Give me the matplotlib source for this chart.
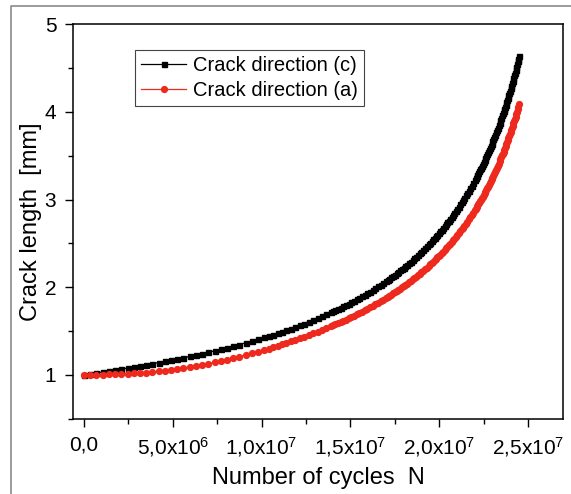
import matplotlib
matplotlib.use("Agg")
import matplotlib.pyplot as plt
from matplotlib.lines import Line2D
from matplotlib.ticker import FixedLocator, FixedFormatter, MultipleLocator

plt.rcParams['font.family'] = ['Liberation Sans', 'DejaVu Sans']
plt.rcParams['mathtext.fontset'] = 'custom'
plt.rcParams['mathtext.rm'] = 'Liberation Sans'
plt.rcParams['mathtext.it'] = 'Liberation Sans'

# Number of cycles (in units of 1e6) -- denser sampling where the curves steepen
cycles_m = [0.00, 0.35, 0.70, 1.05, 1.40, 1.75, 2.10, 2.45, 2.80, 3.15,
            3.50, 3.85, 4.20, 4.55, 4.90, 5.25, 5.60, 5.95, 6.30, 6.65,
            7.00, 7.35, 7.70, 8.05, 8.40, 8.75, 9.10, 9.45, 9.80, 10.15,
            10.40, 10.65, 10.90, 11.15, 11.40, 11.65, 11.90, 12.15, 12.40, 12.65,
            12.90, 13.15, 13.40, 13.65, 13.90,
            14.00, 14.15, 14.30, 14.45, 14.60, 14.75, 14.90, 15.05, 15.20, 15.35,
            15.50, 15.65, 15.80, 15.95, 16.10, 16.25, 16.40, 16.55, 16.70, 16.85,
            17.00, 17.10, 17.20, 17.30, 17.40, 17.50, 17.60, 17.70, 17.80, 17.90,
            18.00, 18.10, 18.20, 18.30, 18.40, 18.50, 18.60, 18.70, 18.80, 18.90,
            19.00, 19.10, 19.20, 19.30, 19.40,
            19.50, 19.58, 19.66, 19.74, 19.82, 19.90, 19.98, 20.06, 20.14, 20.22,
            20.30, 20.38, 20.46, 20.54, 20.62, 20.70, 20.78, 20.86, 20.94, 21.02,
            21.10, 21.18, 21.26, 21.34, 21.42, 21.50, 21.58, 21.66, 21.74, 21.82,
            21.90,
            22.00, 22.05, 22.10, 22.15, 22.20, 22.25, 22.30, 22.35, 22.40, 22.45,
            22.50, 22.55, 22.60, 22.65, 22.70, 22.75, 22.80, 22.85, 22.90, 22.95,
            23.00, 23.05, 23.10, 23.15, 23.20, 23.25, 23.30, 23.35, 23.40, 23.45,
            23.50, 23.54, 23.58, 23.62, 23.66, 23.70, 23.74, 23.78, 23.82, 23.86,
            23.90, 23.94, 23.98, 24.02, 24.06, 24.10, 24.14, 24.18, 24.22, 24.26,
            24.30, 24.34, 24.38, 24.42, 24.46, 24.50]

crack_c = [1.000, 1.010, 1.020, 1.031, 1.042, 1.053, 1.064, 1.075, 1.087, 1.099,
           1.112, 1.125, 1.138, 1.151, 1.165, 1.179, 1.193, 1.208, 1.224, 1.239,
           1.256, 1.272, 1.290, 1.307, 1.326, 1.344, 1.364, 1.384, 1.405, 1.426,
           1.442, 1.458, 1.475, 1.492, 1.509, 1.527, 1.545, 1.564, 1.584, 1.604,
           1.624, 1.645, 1.667, 1.689, 1.712,
           1.722, 1.736, 1.750, 1.765, 1.780, 1.796, 1.812, 1.828, 1.844, 1.861,
           1.878, 1.895, 1.913, 1.931, 1.949, 1.968, 1.988, 2.007, 2.027, 2.048,
           2.069, 2.083, 2.098, 2.113, 2.128, 2.143, 2.158, 2.174, 2.190, 2.206,
           2.223, 2.240, 2.257, 2.274, 2.292, 2.310, 2.328, 2.347, 2.366, 2.385,
           2.404, 2.424, 2.445, 2.466, 2.487,
           2.508, 2.526, 2.544, 2.562, 2.580, 2.599, 2.618, 2.637, 2.657, 2.677,
           2.697, 2.717, 2.738, 2.760, 2.781, 2.803, 2.826, 2.849, 2.872, 2.896,
           2.920, 2.945, 2.970, 2.995, 3.021, 3.048, 3.075, 3.102, 3.130, 3.159,
           3.188,
           3.226, 3.245, 3.264, 3.284, 3.304, 3.324, 3.345, 3.365, 3.386, 3.407,
           3.429, 3.451, 3.473, 3.496, 3.519, 3.542, 3.565, 3.589, 3.613, 3.638,
           3.663, 3.688, 3.714, 3.740, 3.767, 3.794, 3.821, 3.849, 3.877, 3.906,
           3.935, 3.959, 3.983, 4.007, 4.032, 4.057, 4.082, 4.108, 4.134, 4.161,
           4.188, 4.215, 4.243, 4.271, 4.299, 4.328, 4.357, 4.387, 4.417, 4.448,
           4.479, 4.511, 4.543, 4.576, 4.609, 4.643]

crack_a = [1.000, 1.000, 1.000, 1.001, 1.003, 1.005, 1.007, 1.011, 1.015, 1.020,
           1.025, 1.032, 1.039, 1.047, 1.056, 1.066, 1.076, 1.088, 1.100, 1.113,
           1.127, 1.141, 1.157, 1.172, 1.189, 1.206, 1.225, 1.244, 1.263, 1.284,
           1.299, 1.314, 1.330, 1.346, 1.363, 1.380, 1.397, 1.415, 1.433, 1.452,
           1.471, 1.491, 1.511, 1.532, 1.553,
           1.562, 1.575, 1.588, 1.602, 1.616, 1.630, 1.644, 1.659, 1.674, 1.689,
           1.704, 1.720, 1.736, 1.752, 1.769, 1.786, 1.803, 1.821, 1.839, 1.857,
           1.876, 1.888, 1.901, 1.914, 1.928, 1.941, 1.955, 1.968, 1.982, 1.997,
           2.011, 2.026, 2.041, 2.056, 2.072, 2.087, 2.103, 2.120, 2.136, 2.153,
           2.170, 2.187, 2.205, 2.223, 2.241,
           2.260, 2.275, 2.291, 2.306, 2.322, 2.339, 2.355, 2.372, 2.388, 2.406,
           2.423, 2.441, 2.459, 2.477, 2.496, 2.515, 2.535, 2.554, 2.574, 2.595,
           2.615, 2.636, 2.658, 2.680, 2.702, 2.725, 2.748, 2.772, 2.796, 2.820,
           2.845,
           2.877, 2.894, 2.910, 2.927, 2.944, 2.961, 2.979, 2.997, 3.014, 3.033,
           3.051, 3.070, 3.089, 3.108, 3.127, 3.147, 3.167, 3.188, 3.209, 3.230,
           3.251, 3.272, 3.294, 3.317, 3.339, 3.362, 3.386, 3.410, 3.434, 3.458,
           3.483, 3.503, 3.524, 3.545, 3.566, 3.587, 3.608, 3.631, 3.653, 3.675,
           3.698, 3.722, 3.745, 3.769, 3.793, 3.818, 3.843, 3.868, 3.894, 3.920,
           3.947, 3.973, 4.001, 4.029, 4.057, 4.086]

series_labels = ["Crack direction (c)", "Crack direction (a)"]
x_tick_values = [0.0, 5.0e6, 1.0e7, 1.5e7, 2.0e7, 2.5e7]
x_tick_labels = ["0,0", "5,0x10$^{6}$", "1,0x10$^{7}$", "1,5x10$^{7}$",
                 "2,0x10$^{7}$", "2,5x10$^{7}$"]
y_tick_values = [1, 2, 3, 4, 5]
x_label = "Number of cycles  N"
y_label = "Crack length  [mm]"

cycles = [v * 1e6 for v in cycles_m]

fig = plt.figure(figsize=(5.71, 4.94), dpi=100)
ax = fig.add_axes([0.1278, 0.1528, 0.986 - 0.1278, 0.9508 - 0.1528])

red = '#ee2a1e'
ax.plot(cycles, crack_c, color='black', lw=0.9, marker='s', ms=3.6,
        mec='black', mfc='black', label=series_labels[0], zorder=2)
ax.plot(cycles, crack_a, color=red, lw=0.9, marker='o', ms=4.2,
        mec=red, mfc=red, label=series_labels[1], zorder=3)

ax.set_xlim(-6.2e5, 2.697e7)
ax.set_ylim(0.5, 5.0)

ax.xaxis.set_major_locator(FixedLocator(x_tick_values))
ax.xaxis.set_major_formatter(FixedFormatter(x_tick_labels))
ax.xaxis.set_minor_locator(MultipleLocator(2.5e6))
ax.yaxis.set_major_locator(FixedLocator(y_tick_values))
ax.yaxis.set_minor_locator(MultipleLocator(0.5))

ax.tick_params(which='both', direction='out', top=False, right=False,
               width=1.0, color='black')
ax.tick_params(which='major', length=6, labelsize=15, pad=6)
ax.tick_params(which='minor', length=3.5)

for s in ax.spines.values():
    s.set_linewidth(1.1)
    s.set_color('black')

ax.set_xlabel(x_label, fontsize=17, labelpad=6)
ax.set_ylabel(y_label, fontsize=17, labelpad=2)

leg = ax.legend(loc='upper left', bbox_to_anchor=(0.1265, 0.9348),
                borderaxespad=0, fontsize=14.5, frameon=True, fancybox=False,
                edgecolor='#444444', framealpha=1, handlelength=2.25,
                handletextpad=0.35, labelspacing=0.3, borderpad=0.3)
leg.get_frame().set_linewidth(0.8)

# outer gray frame (left and top edges)
fig.add_artist(Line2D([11 / 571, 11 / 571, 1.0], [0.0, 1 - 6 / 494, 1 - 6 / 494],
                      transform=fig.transFigure, color='#8a8a8a', lw=1.2))

fig.savefig("out.png", dpi=100)
